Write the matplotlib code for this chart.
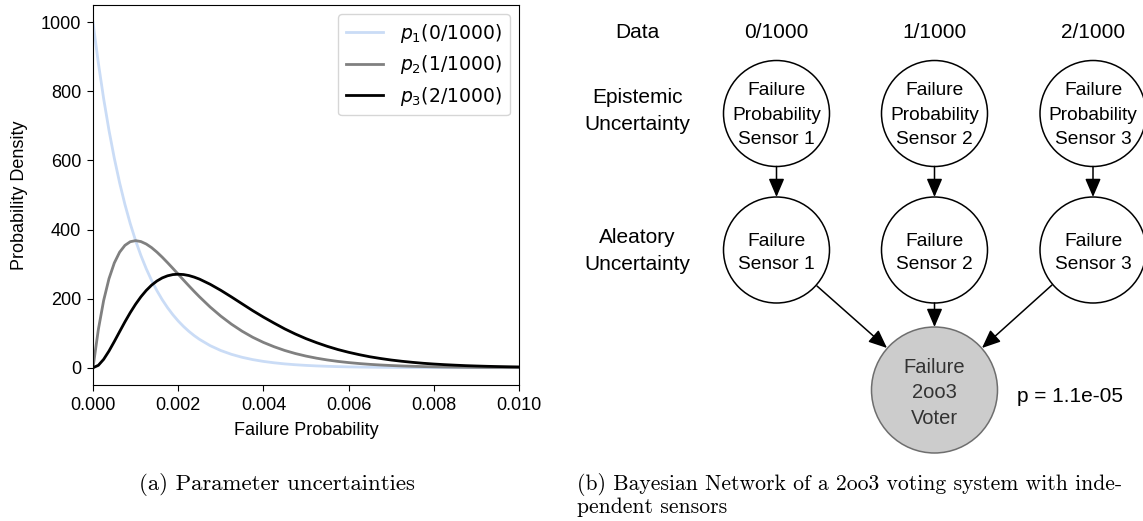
import matplotlib
matplotlib.use('Agg')
import matplotlib.pyplot as plt
from matplotlib.patches import Circle, FancyArrowPatch

# failure probability grid and the three densities
fail_prob = [0.0, 0.000125, 0.00025, 0.000375, 0.0005, 0.000625, 0.00075, 0.000875,
             0.001, 0.001125, 0.00125, 0.001375, 0.0015, 0.001625, 0.00175, 0.001875,
             0.002, 0.002125, 0.00225, 0.002375, 0.0025, 0.00275, 0.003, 0.00325,
             0.0035, 0.00375, 0.004, 0.00425, 0.0045, 0.00475, 0.005, 0.00525,
             0.0055, 0.00575, 0.006, 0.00625, 0.0065, 0.00675, 0.007, 0.00725,
             0.0075, 0.00775, 0.008, 0.00825, 0.0085, 0.00875, 0.009, 0.00925,
             0.0095, 0.00975, 0.01]
dens_p1 = [1000, 882.5, 778.8, 687.3, 606.5, 535.3, 472.4, 416.9, 367.9, 324.7,
           286.5, 252.8, 223.1, 196.9, 173.8, 153.4, 135.3, 119.4, 105.4, 93.0, 82.1,
           63.9, 49.8, 38.8, 30.2, 23.5, 18.3, 14.3, 11.1, 8.65, 6.74, 5.25, 4.09,
           3.18, 2.48, 1.93, 1.50, 1.17, 0.91, 0.71, 0.55, 0.43, 0.34, 0.26, 0.20,
           0.16, 0.12, 0.10, 0.07, 0.06, 0.05]
dens_p2 = [0, 110.3, 194.7, 257.7, 303.3, 334.5, 354.3, 364.8, 367.9, 365.2,
           358.1, 347.7, 334.7, 320.0, 304.1, 287.6, 270.7, 253.8, 237.2, 220.9, 205.2,
           175.7, 149.4, 126.1, 105.7, 88.1, 73.3, 60.8, 50.0, 41.1, 33.7, 27.6, 22.5,
           18.3, 14.9, 12.1, 9.75, 7.90, 6.38, 5.15, 4.15, 3.34, 2.68, 2.15, 1.73,
           1.38, 1.11, 0.89, 0.71, 0.57, 0.45]
dens_p3 = [0, 6.9, 24.3, 48.3, 75.8, 104.5, 132.9, 159.6, 183.9, 205.4,
           223.8, 239.0, 251.0, 260.0, 266.1, 269.6, 270.7, 269.7, 266.9, 262.3, 256.5,
           241.6, 224.1, 204.9, 185.0, 165.2, 146.6, 129.2, 112.5, 97.6, 84.2, 72.5, 61.9,
           52.6, 44.7, 37.8, 31.7, 26.7, 22.3, 18.7, 15.6, 12.9, 10.7, 8.9, 7.4,
           6.0, 5.0, 4.1, 3.4, 2.8, 2.3]
legend_labels = [r'$p_1$(0/1000)', r'$p_2$(1/1000)', r'$p_3$(2/1000)']
line_colors = ['#cadcf6', '#808080', '#000000']

# network labels
data_labels = ['0/1000', '1/1000', '2/1000']
epistemic_nodes = ['Failure\nProbability\nSensor 1', 'Failure\nProbability\nSensor 2',
                   'Failure\nProbability\nSensor 3']
aleatory_nodes = ['Failure\nSensor 1', 'Failure\nSensor 2', 'Failure\nSensor 3']
voter_node = 'Failure\n2oo3\nVoter'
voter_prob = 'p = 1.1e-05'

plt.rcParams['font.family'] = ['Liberation Sans', 'DejaVu Sans']

W, H = 1143, 521
fig = plt.figure(figsize=(W / 100, H / 100), dpi=100)

# --- (a) density plot
ax = fig.add_axes([93 / W, 1 - 385 / H, 426 / W, 380 / H])
dens = [dens_p1, dens_p2, dens_p3]
for i in range(3):
    ax.plot(fail_prob, dens[i], color=line_colors[i], lw=2, label=legend_labels[i])
ax.set_xlim(0, 0.01)
ax.set_xticks([0, 0.002, 0.004, 0.006, 0.008, 0.01])
ax.set_xticklabels(['0.000', '0.002', '0.004', '0.006', '0.008', '0.010'])
ax.set_yticks([0, 200, 400, 600, 800, 1000])
ax.tick_params(labelsize=13, length=4.5, pad=4)
ax.set_xlabel('Failure Probability', fontsize=13, labelpad=6)
ax.set_ylabel('Probability Density', fontsize=13, labelpad=9)
ax.legend(loc='upper right', prop={'family': 'DejaVu Sans', 'size': 13.5},
          handletextpad=0.9, labelspacing=0.45)

# --- (b) bayesian network, drawn in pixel coords
net = fig.add_axes([0, 0, 1, 1], zorder=-1)
net.set_xlim(0, W)
net.set_ylim(H, 0)
net.axis('off')

col_x = [776.5, 934.5, 1093]
row1_y, row2_y, r = 113.5, 250, 53
voter_x, voter_y, voter_r = 934.5, 390, 63
fs = 13.8
fs_lab = 15
arrow = '-|>,head_length=0.7,head_width=0.3'

net.text(637, 32, 'Data', ha='center', va='center', fontsize=fs_lab)
net.text(637, 111, 'Epistemic\nUncertainty', ha='center', va='center', fontsize=fs_lab,
         linespacing=1.5)
net.text(637, 251, 'Aleatory\nUncertainty', ha='center', va='center', fontsize=fs_lab,
         linespacing=1.5)

for i in range(3):
    cx = col_x[i]
    net.text(cx, 32, data_labels[i], ha='center', va='center', fontsize=fs_lab)
    net.add_patch(Circle((cx, row1_y), r, fc='white', ec='black', lw=1.1))
    net.text(cx, 115, epistemic_nodes[i], ha='center', va='center', fontsize=fs,
             linespacing=1.55)
    net.add_patch(Circle((cx, row2_y), r, fc='white', ec='black', lw=1.1))
    net.text(cx, 253, aleatory_nodes[i], ha='center', va='center', fontsize=fs,
             linespacing=1.5)
    net.add_patch(FancyArrowPatch((cx, row1_y + r), (cx, row2_y - r),
                                  arrowstyle=arrow, mutation_scale=16, color='black',
                                  lw=1.1, shrinkA=0, shrinkB=0))

net.add_patch(Circle((voter_x, voter_y), voter_r, fc='#cccccc', ec='#6e6e6e', lw=1.1))
net.text(voter_x, 393, voter_node, ha='center', va='center', fontsize=14.5,
         color='#333333', linespacing=1.45)
net.text(1017, 397, voter_prob, ha='left', va='center', fontsize=15)

for (x0, y0), (x1, y1) in [((817, 286), (887, 348)), ((934.5, 303), (934.5, 327)),
                           ((1052, 285), (982, 348))]:
    net.add_patch(FancyArrowPatch((x0, y0), (x1, y1), arrowstyle=arrow,
                                  mutation_scale=16, color='black', lw=1.1,
                                  shrinkA=0, shrinkB=0))

# captions
net.text(277, 484, '(a) Parameter uncertainties', ha='center', va='center',
         fontsize=16.4, family='cmr10')
net.text(577, 484, '(b) Bayesian Network of a 2oo3 voting system with inde-',
         ha='left', va='center', fontsize=15.6, family='cmr10')
net.text(577, 507, 'pendent sensors', ha='left', va='center', fontsize=15.6,
         family='cmr10')

plt.savefig('out.png', dpi=100)
